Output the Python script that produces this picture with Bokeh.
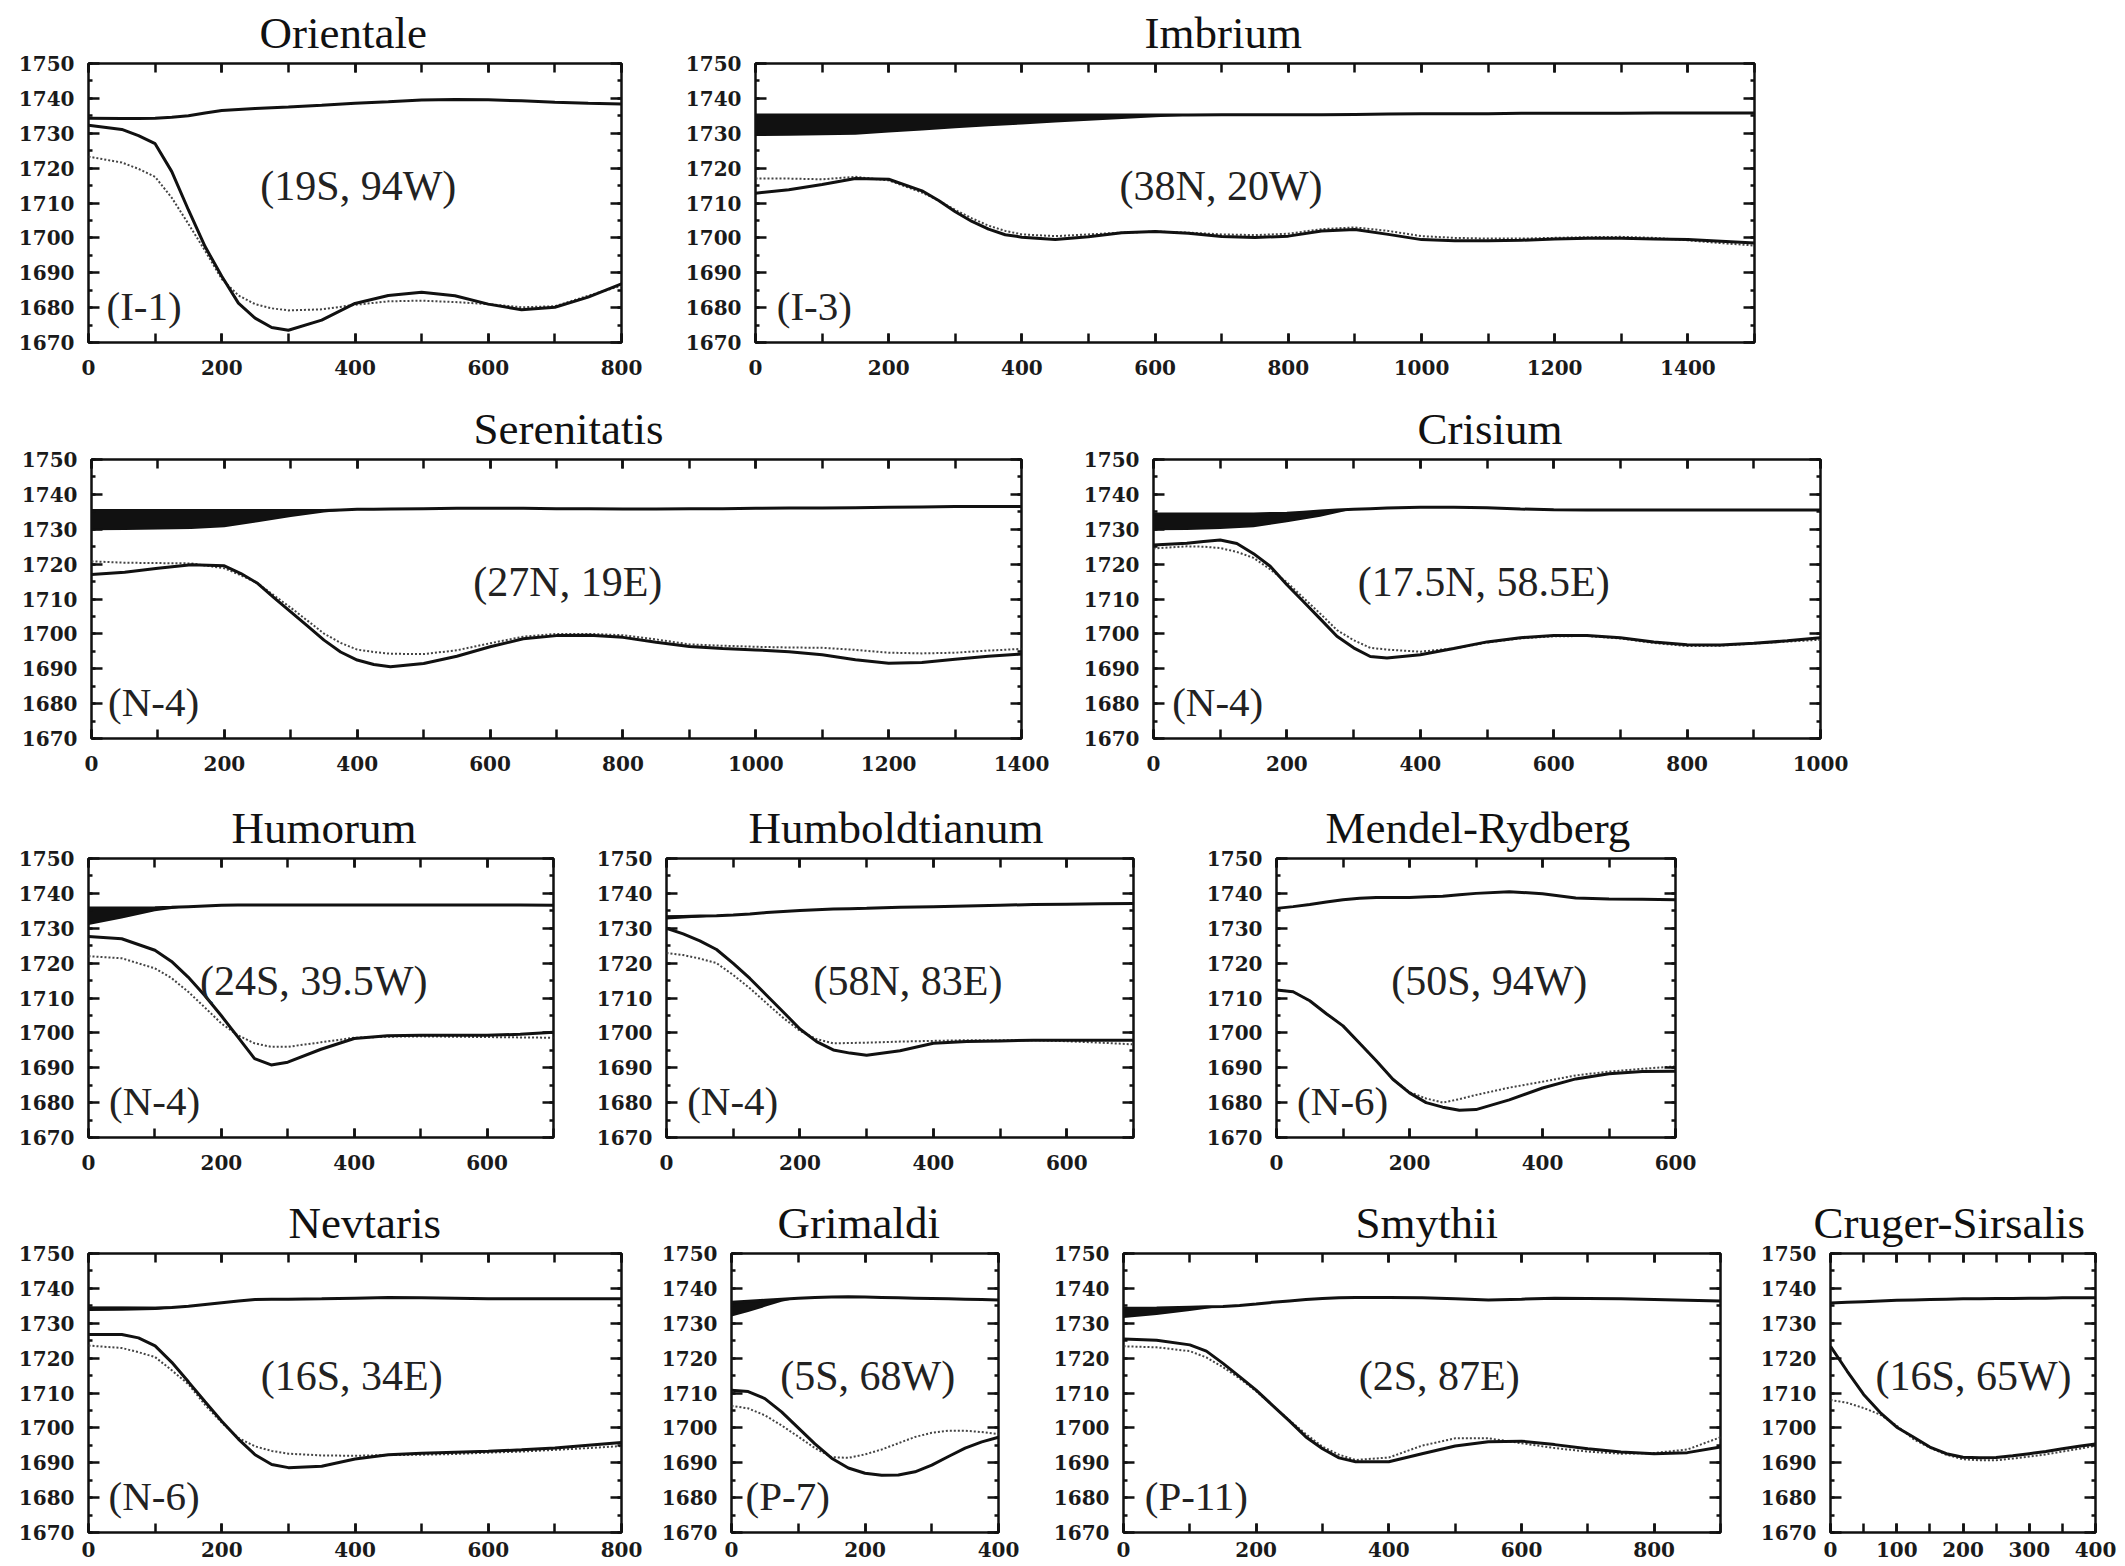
from bokeh.plotting import figure
from bokeh.models import Range1d, LinearAxis, SingleIntervalTicker, Label
from bokeh.layouts import row, column
from bokeh.embed import file_html
from bokeh.resources import INLINE

# ---------------- data ----------------
ori_x = [0, 50, 75, 100, 125, 150, 175, 200, 225, 250, 275, 300, 350, 400, 450, 500, 550, 600, 650, 700, 750, 800]
ori_surface = [1734.3, 1734.2, 1734.2, 1734.3, 1734.6, 1735.0, 1735.8, 1736.5, 1736.8, 1737.1, 1737.3, 1737.5, 1738.0,
               1738.6, 1739.0, 1739.5, 1739.7, 1739.6, 1739.3, 1738.9, 1738.6, 1738.4]
ori_solid = [1732.3, 1731.1, 1729.3, 1727.0, 1719.0, 1708.0, 1697.5, 1689.0, 1681.3, 1677.0, 1674.3, 1673.5, 1676.4,
             1681.2, 1683.5, 1684.4, 1683.4, 1681.0, 1679.4, 1680.1, 1683.0, 1686.8]
ori_dotted = [1723.3, 1721.6, 1719.8, 1717.5, 1711.5, 1704.0, 1696.3, 1688.2, 1683.5, 1681.0, 1679.8, 1679.2, 1679.5,
              1680.8, 1681.8, 1682.0, 1681.6, 1681.0, 1680.1, 1680.4, 1683.4, 1686.3]

imb_x = [0, 50, 100, 150, 200, 250, 275, 300, 325, 350, 375, 400, 450, 500, 550, 600, 650, 700, 750, 800, 850, 900,
         950, 1000, 1050, 1100, 1150, 1200, 1250, 1300, 1350, 1400, 1450, 1500]
imb_surface = [1735.2, 1735.2, 1735.2, 1735.2, 1735.2, 1735.2, 1735.2, 1735.2, 1735.2, 1735.2, 1735.2, 1735.2, 1735.2,
               1735.2, 1735.2, 1735.2, 1735.2, 1735.3, 1735.3, 1735.3, 1735.3, 1735.4, 1735.5, 1735.6, 1735.6, 1735.6,
               1735.7, 1735.7, 1735.7, 1735.7, 1735.8, 1735.8, 1735.8, 1735.8]
imb_band_x = [0, 50, 100, 150, 200, 250, 300, 350, 400, 450, 500, 550, 600, 650, 700]
imb_band_lo = [1729.2, 1729.3, 1729.4, 1729.6, 1730.2, 1730.8, 1731.4, 1732.0, 1732.5, 1733.1, 1733.6, 1734.1, 1734.6, 1735.0, 1735.3]
imb_band_hi = [1735.4, 1735.4, 1735.3, 1735.3, 1735.2, 1735.2, 1735.2, 1735.2, 1735.2, 1735.2, 1735.2, 1735.2, 1735.2, 1735.2, 1735.3]
imb_solid = [1712.8, 1713.8, 1715.3, 1717.0, 1716.8, 1713.5, 1710.7, 1707.5, 1704.7, 1702.5, 1700.9, 1700.2, 1699.5,
             1700.3, 1701.5, 1701.8, 1701.3, 1700.4, 1700.1, 1700.5, 1702.0, 1702.4, 1701.0, 1699.5, 1699.2, 1699.2,
             1699.3, 1699.7, 1699.9, 1699.9, 1699.7, 1699.5, 1699.0, 1698.5]
imb_dotted = [1717.0, 1717.0, 1716.8, 1717.5, 1716.5, 1713.0, 1710.7, 1708.0, 1705.6, 1703.5, 1702.0, 1701.0, 1700.5,
              1701.0, 1701.5, 1701.8, 1701.5, 1701.0, 1700.8, 1701.2, 1702.5, 1703.0, 1702.0, 1700.5, 1700.0, 1699.8,
              1699.8, 1700.0, 1700.2, 1700.3, 1700.0, 1699.3, 1698.5, 1697.8]

ser_x = [0, 50, 100, 150, 200, 225, 250, 275, 300, 325, 350, 375, 400, 425, 450, 500, 550, 600, 650, 700, 750, 800,
         850, 900, 950, 1000, 1050, 1100, 1150, 1200, 1250, 1300, 1350, 1400]
ser_surface = [1735.4, 1735.4, 1735.4, 1735.4, 1735.4, 1735.4, 1735.4, 1735.4, 1735.4, 1735.4, 1735.4, 1735.55, 1735.7,
               1735.75, 1735.8, 1735.9, 1736.0, 1736.0, 1736.0, 1735.9, 1735.9, 1735.8, 1735.8, 1735.9, 1735.9, 1736.0,
               1736.1, 1736.1, 1736.2, 1736.3, 1736.4, 1736.5, 1736.5, 1736.5]
ser_band_x = [0, 50, 100, 150, 200, 250, 300, 350, 400]
ser_band_lo = [1729.7, 1729.8, 1729.9, 1730.1, 1730.6, 1732.0, 1733.5, 1734.8, 1735.7]
ser_band_hi = [1735.4, 1735.4, 1735.4, 1735.4, 1735.4, 1735.4, 1735.4, 1735.4, 1735.7]
ser_solid = [1717.0, 1717.7, 1718.8, 1719.8, 1719.5, 1717.3, 1714.5, 1710.3, 1706.3, 1702.3, 1698.2, 1694.8, 1692.5,
             1691.2, 1690.6, 1691.5, 1693.6, 1696.3, 1698.6, 1699.5, 1699.6, 1699.0, 1697.6, 1696.4, 1695.8, 1695.4,
             1694.9, 1694.0, 1692.6, 1691.6, 1691.8, 1692.7, 1693.6, 1694.2]
ser_dotted = [1720.8, 1720.4, 1720.3, 1720.2, 1718.8, 1716.8, 1714.5, 1711.0, 1707.5, 1703.8, 1700.1, 1697.4, 1695.5,
              1694.8, 1694.3, 1694.2, 1695.3, 1697.3, 1699.2, 1700.0, 1700.0, 1699.6, 1698.4, 1697.0, 1696.6, 1696.3,
              1696.1, 1696.0, 1695.4, 1694.6, 1694.4, 1694.6, 1695.2, 1695.7]

cri_x = [0, 50, 75, 100, 125, 150, 175, 200, 225, 250, 275, 300, 325, 350, 400, 450, 500, 550, 600, 650, 700, 750,
         800, 850, 900, 950, 1000]
cri_surface = [1734.4, 1734.4, 1734.4, 1734.4, 1734.4, 1734.4, 1734.5, 1734.6, 1734.9, 1735.2, 1735.5, 1735.7, 1735.9,
               1736.1, 1736.3, 1736.3, 1736.2, 1735.8, 1735.6, 1735.5, 1735.5, 1735.5, 1735.5, 1735.5, 1735.5, 1735.5,
               1735.5]
cri_band_x = [0, 50, 100, 150, 200, 250, 300]
cri_band_lo = [1729.7, 1729.8, 1730.1, 1730.6, 1732.0, 1733.6, 1735.7]
cri_band_hi = [1734.5, 1734.5, 1734.5, 1734.5, 1734.6, 1735.2, 1735.7]
cri_solid = [1725.5, 1726.0, 1726.5, 1726.9, 1725.9, 1723.0, 1719.4, 1714.1, 1709.2, 1704.3, 1699.3, 1696.0, 1693.5,
             1693.1, 1694.0, 1695.8, 1697.7, 1698.9, 1699.5, 1699.5, 1698.9, 1697.7, 1696.9, 1696.8, 1697.3, 1698.0,
             1698.9]
cri_dotted = [1724.5, 1725.1, 1725.0, 1724.6, 1723.5, 1721.8, 1718.5, 1714.8, 1710.3, 1705.8, 1701.1, 1698.2, 1696.0,
              1695.5, 1694.9, 1695.8, 1697.5, 1698.7, 1699.3, 1699.4, 1698.7, 1697.4, 1696.5, 1696.6, 1697.2, 1697.8,
              1698.3]

hum_x = [0, 50, 100, 125, 150, 175, 200, 225, 250, 275, 300, 350, 400, 450, 500, 550, 600, 650, 700]
hum_surface = [1735.8, 1735.8, 1735.9, 1736.0, 1736.2, 1736.4, 1736.6, 1736.7, 1736.7, 1736.7, 1736.7, 1736.7, 1736.7,
               1736.7, 1736.7, 1736.7, 1736.7, 1736.7, 1736.6]
hum_band_x = [0, 50, 100, 150]
hum_band_lo = [1730.9, 1732.8, 1734.9, 1736.2]
hum_band_hi = [1735.8, 1735.8, 1735.9, 1736.2]
hum_solid = [1727.6, 1727.0, 1723.7, 1720.5, 1716.0, 1710.7, 1704.9, 1698.8, 1692.6, 1690.8, 1691.6, 1695.3, 1698.4,
             1699.2, 1699.3, 1699.3, 1699.3, 1699.6, 1700.2]
hum_dotted = [1722.0, 1721.4, 1718.5, 1715.7, 1711.8, 1707.3, 1702.7, 1699.3, 1697.0, 1696.0, 1696.0, 1697.3, 1698.6,
              1698.9, 1699.0, 1698.9, 1698.8, 1698.7, 1698.6]

hbd_x = [0, 25, 50, 75, 100, 125, 150, 175, 200, 225, 250, 275, 300, 350, 400, 450, 500, 550, 600, 650, 700]
hbd_surface = [1733.3, 1733.4, 1733.5, 1733.6, 1733.8, 1734.1, 1734.5, 1734.8, 1735.1, 1735.3, 1735.5, 1735.6, 1735.7,
               1736.0, 1736.2, 1736.4, 1736.6, 1736.8, 1736.9, 1737.0, 1737.1]
hbd_band_x = [0, 50, 100]
hbd_band_lo = [1732.5, 1733.1, 1733.8]
hbd_band_hi = [1733.6, 1733.7, 1733.8]
hbd_solid = [1730.0, 1728.4, 1726.4, 1723.9, 1719.9, 1715.6, 1710.8, 1706.0, 1701.1, 1697.5, 1695.1, 1694.2, 1693.6,
             1694.9, 1697.0, 1697.5, 1697.7, 1697.9, 1697.9, 1697.9, 1697.9]
hbd_dotted = [1722.9, 1722.3, 1721.3, 1720.0, 1716.6, 1712.8, 1708.5, 1704.3, 1700.6, 1698.2, 1697.0, 1697.1, 1697.2,
              1697.5, 1697.7, 1697.9, 1697.9, 1697.9, 1697.6, 1697.2, 1696.7]

men_x = [0, 25, 50, 75, 100, 125, 150, 175, 200, 225, 250, 275, 300, 350, 400, 450, 500, 550, 600]
men_surface = [1735.7, 1736.2, 1736.8, 1737.5, 1738.2, 1738.6, 1738.8, 1738.8, 1738.8, 1739.0, 1739.2, 1739.6, 1740.0,
               1740.5, 1739.9, 1738.7, 1738.4, 1738.3, 1738.2]
men_solid = [1712.3, 1711.8, 1709.2, 1705.5, 1702.0, 1697.0, 1692.0, 1686.7, 1682.8, 1680.0, 1678.7, 1677.8, 1678.0,
             1680.8, 1684.2, 1686.8, 1688.3, 1688.9, 1689.0]
men_dotted = [1712.3, 1711.8, 1709.2, 1705.5, 1702.0, 1697.0, 1692.0, 1686.7, 1683.0, 1681.2, 1680.0, 1681.0, 1682.2,
              1684.3, 1686.0, 1687.8, 1688.9, 1689.7, 1690.4]

nev_x = [0, 50, 75, 100, 125, 150, 175, 200, 225, 250, 275, 300, 350, 400, 450, 500, 550, 600, 650, 700, 750, 800]
nev_surface = [1734.3, 1734.3, 1734.3, 1734.3, 1734.5, 1734.9, 1735.4, 1735.9, 1736.4, 1736.8, 1736.9, 1736.9, 1737.0,
               1737.2, 1737.4, 1737.3, 1737.2, 1737.0, 1737.0, 1737.0, 1737.0, 1737.0]
nev_band_x = [0, 50, 100, 150]
nev_band_lo = [1733.5, 1733.6, 1733.8, 1734.9]
nev_band_hi = [1734.8, 1734.8, 1734.7, 1734.9]
nev_solid = [1726.8, 1726.8, 1725.8, 1723.5, 1718.8, 1713.2, 1707.5, 1701.9, 1696.8, 1692.3, 1689.5, 1688.6, 1689.0,
             1691.1, 1692.3, 1692.7, 1693.0, 1693.3, 1693.7, 1694.2, 1695.0, 1695.8]
nev_dotted = [1723.6, 1722.9, 1721.7, 1720.3, 1716.5, 1712.5, 1706.6, 1701.5, 1697.1, 1694.7, 1693.4, 1692.6, 1692.1,
              1692.0, 1692.2, 1692.3, 1692.5, 1692.9, 1693.2, 1693.7, 1694.2, 1694.8]

gri_x = [0, 25, 50, 75, 100, 125, 150, 175, 200, 225, 250, 275, 300, 325, 350, 375, 400]
gri_surface = [1736.0, 1736.3, 1736.6, 1736.9, 1737.2, 1737.4, 1737.5, 1737.6, 1737.5, 1737.4, 1737.3, 1737.2, 1737.1,
               1737.0, 1736.9, 1736.8, 1736.7]
gri_band_x = [0, 25, 50, 75, 100]
gri_band_lo = [1731.9, 1733.2, 1734.7, 1736.2, 1737.2]
gri_band_hi = [1736.0, 1736.3, 1736.6, 1736.9, 1737.2]
gri_solid = [1710.8, 1710.4, 1708.4, 1704.6, 1700.0, 1695.4, 1691.3, 1688.5, 1687.0, 1686.4, 1686.5, 1687.4, 1689.3,
             1691.8, 1694.2, 1696.0, 1697.3]
gri_dotted = [1706.3, 1705.6, 1703.6, 1700.7, 1697.5, 1694.2, 1691.6, 1691.4, 1692.4, 1693.8, 1695.6, 1697.4, 1698.6,
              1699.2, 1699.2, 1698.8, 1698.2]

smy_x = [0, 50, 100, 125, 150, 175, 200, 225, 250, 275, 300, 325, 350, 400, 450, 500, 550, 600, 650, 700, 750, 800,
         850, 900]
smy_surface = [1734.3, 1734.4, 1734.6, 1734.7, 1734.8, 1735.1, 1735.5, 1736.0, 1736.4, 1736.8, 1737.1, 1737.3, 1737.4,
               1737.4, 1737.3, 1737.0, 1736.7, 1736.9, 1737.2, 1737.1, 1737.0, 1736.8, 1736.6, 1736.4]
smy_band_x = [0, 50, 100, 150]
smy_band_lo = [1731.5, 1732.4, 1733.5, 1734.8]
smy_band_hi = [1734.4, 1734.4, 1734.6, 1734.8]
smy_solid = [1725.5, 1725.1, 1723.8, 1722.0, 1718.5, 1714.7, 1710.8, 1706.4, 1702.0, 1697.4, 1694.0, 1691.4, 1690.3,
             1690.3, 1692.6, 1694.8, 1696.0, 1696.2, 1695.2, 1694.0, 1693.1, 1692.6, 1692.9, 1694.5]
smy_dotted = [1723.4, 1723.1, 1722.0, 1720.2, 1717.4, 1714.2, 1710.5, 1706.4, 1702.2, 1698.2, 1694.6, 1692.3, 1690.8,
              1691.5, 1694.9, 1697.0, 1697.0, 1695.6, 1694.2, 1693.2, 1692.6, 1692.8, 1693.8, 1697.3]

cru_x = [0, 25, 50, 75, 100, 125, 150, 175, 200, 225, 250, 275, 300, 325, 350, 375, 400]
cru_surface = [1735.8, 1736.0, 1736.2, 1736.4, 1736.6, 1736.7, 1736.8, 1736.9, 1737.0, 1737.0, 1737.1, 1737.1, 1737.2,
               1737.2, 1737.3, 1737.3, 1737.3]
cru_solid = [1723.4, 1716.3, 1709.6, 1704.4, 1700.2, 1697.4, 1694.5, 1692.6, 1691.6, 1691.4, 1691.5, 1692.0, 1692.6,
             1693.2, 1694.0, 1694.7, 1695.4]
cru_dotted = [1708.0, 1707.2, 1705.7, 1703.8, 1700.6, 1696.8, 1694.3, 1692.3, 1691.0, 1690.7, 1690.7, 1691.2, 1691.8,
              1692.4, 1693.2, 1694.0, 1694.9]

Y_MIN, Y_MAX = 1670, 1750

# ---------------- styling helpers ----------------
SERIF = "Liberation Serif"
TICKF = "DejaVu Serif"
INK = "#111111"
FRAME_H = 281
TOP = 61


def style_axis(ax, labels, standoff, tick_major=9, tick_minor=9):
    ax.axis_line_color = None
    ax.major_tick_in = tick_major
    ax.major_tick_out = 0
    ax.minor_tick_in = tick_minor
    ax.minor_tick_out = 0
    ax.major_tick_line_width = 2.5
    ax.minor_tick_line_width = 2.5
    ax.major_tick_line_color = INK
    ax.minor_tick_line_color = INK
    if labels:
        ax.major_label_text_font = TICKF
        ax.major_label_text_font_style = "bold"
        ax.major_label_text_font_size = "20px"
        ax.major_label_text_color = "#1a1a1a"
        ax.major_label_standoff = standoff
    else:
        ax.major_label_text_font_size = "1px"
        ax.major_label_text_color = None
        ax.major_label_text_alpha = 0
        ax.major_label_standoff = 0


def make_panel(name, coord, tag, xs, surface, solid, dotted, band, xmax, xstep,
               frame_w, left, right, bottom, x_standoff, title_off, coord_x, tag_x):
    height = TOP + FRAME_H + bottom
    p = figure(width=left + frame_w + right, height=height, title=name,
               x_range=Range1d(0, xmax), y_range=Range1d(Y_MIN, Y_MAX),
               output_backend="svg", toolbar_location=None,
               min_border_left=left, min_border_right=right,
               min_border_top=TOP, min_border_bottom=bottom)
    p.background_fill_color = "white"
    p.border_fill_color = "white"
    p.outline_line_color = INK
    p.outline_line_width = 2.5
    p.xgrid.visible = False
    p.ygrid.visible = False

    p.title.text_font = SERIF
    p.title.text_font_size = "45px"
    p.title.text_font_style = "normal"
    p.title.text_color = INK
    p.title.align = "left"
    p.title.offset = title_off
    p.title.standoff = 11

    xt = SingleIntervalTicker(interval=xstep, num_minor_ticks=2)
    yt = SingleIntervalTicker(interval=10, num_minor_ticks=2)
    p.xaxis.ticker = xt
    p.yaxis.ticker = yt
    style_axis(p.xaxis[0], True, x_standoff, 9, 9)
    style_axis(p.yaxis[0], True, 14, 11, 4)
    top_ax = LinearAxis(ticker=xt)
    right_ax = LinearAxis(ticker=yt)
    style_axis(top_ax, False, 0, 9, 9)
    style_axis(right_ax, False, 0, 11, 4)
    p.add_layout(top_ax, "above")
    p.add_layout(right_ax, "right")

    if band is not None:
        bx, blo, bhi = band
        p.varea(x=bx, y1=blo, y2=bhi, fill_color=INK)
    p.line(xs, surface, line_color=INK, line_width=3)
    p.line(xs, dotted, line_color="#444444", line_width=2, line_dash="2 2")
    p.line(xs, solid, line_color=INK, line_width=3)

    p.add_layout(Label(x=coord_x, y=1714.8, text=coord, text_font=SERIF,
                       text_font_size="42px", text_color="#222222",
                       text_align="center", text_baseline="middle"))
    if tag:
        p.add_layout(Label(x=tag_x, y=1680.6, text=tag, text_font=SERIF,
                           text_font_size="41px", text_color="#222222",
                           text_align="left", text_baseline="middle"))
    return p


# ---------------- panels ----------------
p_ori = make_panel("Orientale", "(19S, 94W)", "(I-1)", ori_x, ori_surface, ori_solid, ori_dotted, None,
                   800, 200, 533, 88, 28, 54, 17, 171, 405, 27)
p_imb = make_panel("Imbrium", "(38N, 20W)", "(I-3)", imb_x, imb_surface, imb_solid, imb_dotted,
                   (imb_band_x, imb_band_lo, imb_band_hi), 1500, 200, 999, 106, 28, 54, 17, 389, 699, 32)

p_ser = make_panel("Serenitatis", "(27N, 19E)", "(N-4)", ser_x, ser_surface, ser_solid, ser_dotted,
                   (ser_band_x, ser_band_lo, ser_band_hi), 1400, 200, 930, 91, 28, 57, 17, 382, 717, 25)
p_cri = make_panel("Crisium", "(17.5N, 58.5E)", "(N-4)", cri_x, cri_surface, cri_solid, cri_dotted,
                   (cri_band_x, cri_band_lo, cri_band_hi), 1000, 200, 667, 104, 28, 57, 17, 264, 495, 28)

p_hum = make_panel("Humorum", "(24S, 39.5W)", "(N-4)", hum_x, hum_surface, hum_solid, hum_dotted,
                   (hum_band_x, hum_band_lo, hum_band_hi), 700, 200, 465, 88, 28, 53, 17, 143, 339, 31)
p_hbd = make_panel("Humboldtianum", "(58N, 83E)", "(N-4)", hbd_x, hbd_surface, hbd_solid, hbd_dotted,
                   (hbd_band_x, hbd_band_lo, hbd_band_hi), 700, 200, 467, 85, 28, 53, 17, 82, 362, 31)
p_men = make_panel("Mendel-Rydberg", "(50S, 94W)", "(N-6)", men_x, men_surface, men_solid, men_dotted, None,
                   600, 200, 399, 115, 28, 53, 17, 49, 320, 31)

p_nev = make_panel("Nevtaris", "(16S, 34E)", "(N-6)", nev_x, nev_surface, nev_solid, nev_dotted,
                   (nev_band_x, nev_band_lo, nev_band_hi), 800, 200, 533, 88, 28, 33, 9, 200, 395, 30)
p_gri = make_panel("Grimaldi", "(5S, 68W)", "(P-7)", gri_x, gri_surface, gri_solid, gri_dotted,
                   (gri_band_x, gri_band_lo, gri_band_hi), 400, 200, 267, 82, 28, 33, 9, 46, 204, 21)
p_smy = make_panel("Smythii", "(2S, 87E)", "(P-11)", smy_x, smy_surface, smy_solid, smy_dotted,
                   (smy_band_x, smy_band_lo, smy_band_hi), 900, 200, 597, 97, 28, 33, 9, 232, 476, 32)
p_cru = make_panel("Cruger-Sirsalis", "(16S, 65W)", None, cru_x, cru_surface, cru_solid, cru_dotted, None,
                   400, 100, 265, 82, 28, 33, 9, -17, 216, 0)

layout = column(
    row(p_ori, p_imb),
    row(p_ser, p_cri),
    row(p_hum, p_hbd, p_men),
    row(p_nev, p_gri, p_smy, p_cru),
)

open("out.html", "w").write(file_html(layout, INLINE))
